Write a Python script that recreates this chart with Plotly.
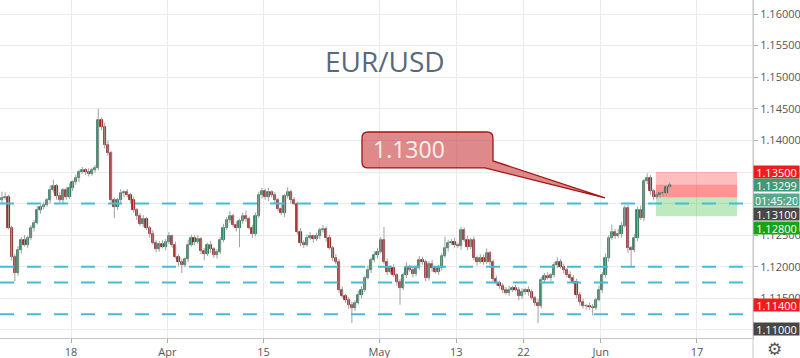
import plotly.graph_objects as go

# ---------------- data (EUR/USD, 3 bars per trading day) ----------------
opens = [
    1.1305, 1.1309, 1.1310, 1.1262, 1.1215, 1.1190, 1.1227, 1.1243, 1.1235, 1.1246,
    1.1261, 1.1270, 1.1290, 1.1295, 1.1298, 1.1305, 1.1321, 1.1328, 1.1312, 1.1305,
    1.1321, 1.1310, 1.1325, 1.1334, 1.1340, 1.1350, 1.1353, 1.1350, 1.1347, 1.1353,
    1.1356, 1.1432, 1.1422, 1.1392, 1.1380, 1.1305, 1.1295, 1.1305, 1.1316, 1.1318,
    1.1313, 1.1305, 1.1290, 1.1280, 1.1268, 1.1275, 1.1262, 1.1252, 1.1238, 1.1228,
    1.1236, 1.1232, 1.1240, 1.1248, 1.1235, 1.1216, 1.1207, 1.1203, 1.1212, 1.1235,
    1.1246, 1.1240, 1.1244, 1.1225, 1.1220, 1.1234, 1.1228, 1.1218, 1.1223, 1.1243,
    1.1262, 1.1274, 1.1281, 1.1266, 1.1262, 1.1272, 1.1281, 1.1276, 1.1262, 1.1252,
    1.1280, 1.1313, 1.1320, 1.1310, 1.1318, 1.1313, 1.1305, 1.1292, 1.1285, 1.1312,
    1.1318, 1.1305, 1.1300, 1.1255, 1.1238, 1.1235, 1.1246, 1.1248, 1.1244, 1.1249,
    1.1258, 1.1260, 1.1246, 1.1230, 1.1214, 1.1208, 1.1164, 1.1154, 1.1148, 1.1140,
    1.1135, 1.1143, 1.1156, 1.1164, 1.1183, 1.1195, 1.1211, 1.1219, 1.1224, 1.1243,
    1.1208, 1.1192, 1.1198, 1.1187, 1.1176, 1.1167, 1.1187, 1.1200, 1.1195, 1.1189,
    1.1198, 1.1211, 1.1208, 1.1182, 1.1205, 1.1198, 1.1192, 1.1198, 1.1217, 1.1230,
    1.1238, 1.1240, 1.1235, 1.1233, 1.1258, 1.1243, 1.1231, 1.1243, 1.1214, 1.1208,
    1.1214, 1.1208, 1.1222, 1.1208, 1.1180, 1.1175, 1.1169, 1.1164, 1.1159, 1.1164,
    1.1167, 1.1164, 1.1154, 1.1160, 1.1164, 1.1160, 1.1151, 1.1143, 1.1138, 1.1179,
    1.1186, 1.1183, 1.1187, 1.1203, 1.1208, 1.1200, 1.1195, 1.1187, 1.1183, 1.1176,
    1.1156, 1.1144, 1.1138, 1.1138, 1.1137, 1.1135, 1.1148, 1.1164, 1.1187, 1.1214,
    1.1246, 1.1255, 1.1249, 1.1252, 1.1265, 1.1293, 1.1230, 1.1227, 1.1246, 1.1290,
    1.1277, 1.1335, 1.1340, 1.1320, 1.1310, 1.1313, 1.1316, 1.1317, 1.1326,
]
closes = [
    1.1309, 1.1310, 1.1262, 1.1215, 1.1190, 1.1227, 1.1243, 1.1235, 1.1246, 1.1261,
    1.1270, 1.1290, 1.1295, 1.1298, 1.1305, 1.1321, 1.1328, 1.1312, 1.1305, 1.1321,
    1.1310, 1.1325, 1.1334, 1.1340, 1.1350, 1.1353, 1.1350, 1.1347, 1.1353, 1.1356,
    1.1432, 1.1422, 1.1392, 1.1380, 1.1305, 1.1295, 1.1305, 1.1316, 1.1318, 1.1313,
    1.1305, 1.1290, 1.1280, 1.1268, 1.1275, 1.1262, 1.1252, 1.1238, 1.1228, 1.1236,
    1.1232, 1.1240, 1.1248, 1.1235, 1.1216, 1.1207, 1.1203, 1.1212, 1.1235, 1.1246,
    1.1240, 1.1244, 1.1225, 1.1220, 1.1234, 1.1228, 1.1218, 1.1223, 1.1243, 1.1262,
    1.1274, 1.1281, 1.1266, 1.1262, 1.1272, 1.1281, 1.1276, 1.1262, 1.1252, 1.1280,
    1.1313, 1.1320, 1.1310, 1.1318, 1.1313, 1.1305, 1.1292, 1.1285, 1.1312, 1.1318,
    1.1305, 1.1300, 1.1255, 1.1238, 1.1235, 1.1246, 1.1248, 1.1244, 1.1249, 1.1258,
    1.1260, 1.1246, 1.1230, 1.1214, 1.1208, 1.1164, 1.1154, 1.1148, 1.1140, 1.1135,
    1.1143, 1.1156, 1.1164, 1.1183, 1.1195, 1.1211, 1.1219, 1.1224, 1.1243, 1.1208,
    1.1192, 1.1198, 1.1187, 1.1176, 1.1167, 1.1187, 1.1200, 1.1195, 1.1189, 1.1198,
    1.1211, 1.1208, 1.1182, 1.1205, 1.1198, 1.1192, 1.1198, 1.1217, 1.1230, 1.1238,
    1.1240, 1.1235, 1.1233, 1.1258, 1.1243, 1.1231, 1.1243, 1.1214, 1.1208, 1.1214,
    1.1208, 1.1222, 1.1208, 1.1180, 1.1175, 1.1169, 1.1164, 1.1159, 1.1164, 1.1167,
    1.1164, 1.1154, 1.1160, 1.1164, 1.1160, 1.1151, 1.1143, 1.1138, 1.1179, 1.1186,
    1.1183, 1.1187, 1.1203, 1.1208, 1.1200, 1.1195, 1.1187, 1.1183, 1.1176, 1.1156,
    1.1144, 1.1138, 1.1138, 1.1137, 1.1135, 1.1148, 1.1164, 1.1187, 1.1214, 1.1246,
    1.1255, 1.1249, 1.1252, 1.1265, 1.1293, 1.1230, 1.1227, 1.1246, 1.1290, 1.1277,
    1.1335, 1.1340, 1.1320, 1.1310, 1.1313, 1.1316, 1.1317, 1.1326, 1.13299,
]
upper_wick_pips = [
    10, 8, 4, 3, 5, 6, 4, 7, 3, 5,
    4, 6, 3, 5, 4, 8, 10, 3, 6, 4,
    5, 7, 3, 6, 4, 5, 3, 6, 4, 5,
    18, 4, 6, 8, 3, 5, 4, 7, 3, 5,
    4, 6, 3, 5, 7, 4, 3, 6, 4, 5,
    6, 4, 7, 3, 5, 4, 6, 3, 8, 5,
    4, 6, 3, 5, 4, 7, 3, 5, 4, 6,
    5, 7, 3, 6, 4, 5, 8, 3, 4, 6,
    6, 5, 4, 7, 3, 5, 4, 6, 3, 8,
    4, 5, 3, 6, 4, 5, 7, 3, 5, 4,
    6, 4, 5, 3, 6, 4, 5, 3, 4, 5,
    4, 6, 5, 3, 7, 4, 5, 6, 4, 20,
    5, 4, 6, 3, 5, 4, 7, 3, 5, 4,
    6, 5, 3, 4, 6, 3, 5, 4, 18, 5,
    4, 6, 3, 5, 4, 6, 3, 5, 4, 6,
    5, 7, 3, 4, 6, 3, 5, 4, 6, 3,
    5, 4, 6, 3, 5, 4, 3, 6, 5, 4,
    6, 3, 5, 7, 4, 5, 3, 6, 4, 5,
    4, 6, 3, 5, 4, 3, 6, 5, 7, 4,
    12, 5, 8, 6, 4, 5, 3, 6, 5, 7,
    4, 8, 5, 3, 6, 4, 5, 3, 4,
]
lower_wick_pips = [
    4, 3, 3, 5, 13, 4, 6, 3, 5, 4,
    5, 3, 6, 4, 3, 5, 4, 6, 3, 5,
    4, 3, 5, 4, 6, 3, 5, 4, 3, 4,
    3, 6, 5, 4, 3, 18, 5, 4, 6, 3,
    5, 4, 6, 3, 5, 4, 6, 3, 5, 4,
    3, 6, 4, 5, 3, 6, 13, 4, 5, 3,
    6, 4, 5, 10, 3, 6, 4, 5, 3, 4,
    4, 5, 3, 6, 31, 4, 5, 3, 6, 4,
    3, 5, 4, 6, 3, 5, 4, 3, 6, 4,
    5, 3, 4, 6, 5, 3, 4, 6, 3, 5,
    4, 6, 3, 5, 4, 6, 3, 5, 6, 24,
    5, 3, 6, 4, 3, 5, 4, 6, 3, 4,
    5, 4, 3, 6, 27, 4, 5, 3, 6, 4,
    3, 5, 5, 4, 6, 3, 5, 4, 3, 6,
    4, 5, 3, 6, 4, 5, 3, 4, 6, 3,
    5, 4, 6, 3, 5, 4, 6, 3, 5, 4,
    3, 7, 5, 4, 6, 3, 5, 27, 4, 5,
    3, 6, 4, 5, 3, 6, 4, 5, 3, 6,
    5, 4, 6, 5, 12, 4, 3, 5, 4, 6,
    3, 5, 4, 6, 3, 8, 26, 4, 5, 3,
    5, 4, 6, 5, 3, 4, 5, 4, 3,
]

tick_labels = ["18", "Apr", "15", "May", "13", "22", "Jun", "17"]
tick_trading_days = [0, 10, 20, 32, 40, 47, 55, 65]   # trading days after 18 Mar
bars_per_day = 3
first_tick_bar = 21.5

# price scale: every 0.005; labels hidden where a price badge covers them
price_ticks = [1.16, 1.155, 1.15, 1.145, 1.14, 1.135, 1.13, 1.125, 1.12, 1.115, 1.11]
covered_ticks = [1.135, 1.13, 1.11]

support_levels = [1.1300, 1.1200, 1.1175, 1.1125]
callout_text = "1.1300"
callout_price = 1.1300

stop_price = 1.1350
entry_price = 1.1310
target_price = 1.1280
last_price = 1.13299
countdown_text = "01:45:20"
alert_prices = [1.1140, 1.1100]

# ---------------- build ----------------
pip = 0.0001
n = len(closes)
xs = list(range(n))
highs = [max(o, c) + u * pip for o, c, u in zip(opens, closes, upper_wick_pips)]
lows = [min(o, c) - l * pip for o, c, l in zip(opens, closes, lower_wick_pips)]

UP_FILL, UP_LINE = "#2f8d68", "#1b5a41"
DN_FILL, DN_LINE = "#c0201f", "#6a0d0d"

fig = go.Figure()

wx, wy = [], []
for i in range(n):
    wx += [i, i, None]
    wy += [lows[i], highs[i], None]
fig.add_trace(go.Scatter(x=wx, y=wy, mode="lines",
                         line=dict(color="#a0a0a0", width=1),
                         hoverinfo="skip", showlegend=False))

body_base = [min(o, c) for o, c in zip(opens, closes)]
body_h = [max(abs(c - o), 0.00005) for o, c in zip(opens, closes)]
fills = [UP_FILL if c >= o else DN_FILL for o, c in zip(opens, closes)]
lines = [UP_LINE if c >= o else DN_LINE for o, c in zip(opens, closes)]
fig.add_trace(go.Bar(x=xs, y=body_h, base=body_base, width=0.7,
                     marker=dict(color=fills, line=dict(color=lines, width=0.7)),
                     hoverinfo="skip", showlegend=False))

tickvals = [first_tick_bar + bars_per_day * d for d in tick_trading_days]
ytext = ["" if any(abs(v - c) < 1e-9 for c in covered_ticks) else f"{v:.5f}"
         for v in price_ticks]

Y_MIN, Y_MAX = 1.10873, 1.16222
X_MIN, X_MAX = -0.62, 233.96

shapes = []
# position tool (short): stop zone, open P/L band, target zone
px0, px1 = 203.7, 229.0
shapes.append(dict(type="rect", xref="x", yref="y", x0=px0, x1=px1,
                   y0=entry_price, y1=stop_price, line=dict(width=0),
                   fillcolor="rgba(255,40,40,0.30)", layer="between"))
shapes.append(dict(type="rect", xref="x", yref="y", x0=px0, x1=px1,
                   y0=entry_price, y1=last_price, line=dict(width=0),
                   fillcolor="rgba(255,40,40,0.28)", layer="between"))
shapes.append(dict(type="rect", xref="x", yref="y", x0=px0, x1=px1,
                   y0=target_price, y1=entry_price, line=dict(width=0),
                   fillcolor="rgba(0,170,0,0.25)", layer="between"))

for lv in support_levels:
    shapes.append(dict(type="line", xref="paper", yref="y", x0=0, x1=1,
                       y0=lv, y1=lv, layer="above",
                       line=dict(color="#45bcd5", width=2, dash="14px,13px")))

# callout balloon
bx0, bx1 = 112.15, 152.96
by_top, by_bot = 1.14133, 1.13564
rx, ry = 1.87, 0.00095
tail_right_y = 1.13675
tail_bottom_x = 150.47
tip_x, tip_y = 187.85, callout_price + 0.0009
path = (f"M {bx0+rx},{by_top} L {bx1-rx},{by_top} Q {bx1},{by_top} {bx1},{by_top-ry} "
        f"L {bx1},{tail_right_y} L {tip_x},{tip_y} L {tail_bottom_x},{by_bot} "
        f"L {bx0+rx},{by_bot} Q {bx0},{by_bot} {bx0},{by_bot+ry} "
        f"L {bx0},{by_top-ry} Q {bx0},{by_top} {bx0+rx},{by_top} Z")
shapes.append(dict(type="path", xref="x", yref="y", path=path, layer="above",
                   fillcolor="rgba(200,60,60,0.6)",
                   line=dict(color="#a51414", width=1.3)))

# separator line of the price scale
shapes.append(dict(type="line", xref="paper", yref="paper", x0=1, x1=1,
                   y0=-0.06, y1=1, line=dict(color="#c8c8c8", width=1)))

annotations = []
annotations.append(dict(text="EUR/USD", xref="paper", yref="paper",
                        x=0.5113, y=0.8817, showarrow=False,
                        font=dict(size=28, color="#58697b", family="Open Sans")))
annotations.append(dict(text=callout_text, xref="x", yref="y", x=114.9,
                        y=1.13864, xanchor="left", showarrow=False,
                        font=dict(size=23, color="#fcefef", family="Open Sans")))


def badge(text, price, color, yshift=0):
    return dict(text=text, xref="paper", yref="y", x=1.0, y=price,
                xanchor="left", yanchor="middle", yshift=yshift,
                showarrow=False, bgcolor=color, width=42, height=9.4,
                borderpad=1.5, align="center",
                font=dict(size=11, color="white", family="Open Sans"))


annotations.append(badge(f"{stop_price:.5f}", stop_price, "#ee1c1c", yshift=0.5))
annotations.append(badge(f"{last_price:.5f}", last_price, "#3f9a78"))
annotations.append(badge(countdown_text, last_price, "#58a98a", yshift=-15))
annotations.append(badge(f"{entry_price:.5f}", entry_price, "#474747", yshift=-16.5))
annotations.append(badge(f"{target_price:.5f}", target_price, "#16a316", yshift=-12))
annotations.append(badge(f"{alert_prices[0]:.5f}", alert_prices[0], "#ee1c1c"))
annotations.append(badge(f"{alert_prices[1]:.5f}", alert_prices[1], "#474747", yshift=1))
annotations.append(dict(text="⚙", xref="paper", yref="paper", x=1.0292, y=-0.0325,
                        xanchor="center", yanchor="middle", showarrow=False,
                        font=dict(size=17, color="#555555", family="DejaVu Sans")))

fig.update_layout(
    width=800, height=358,
    margin=dict(l=0, r=47, t=0, b=20),
    plot_bgcolor="white", paper_bgcolor="white",
    showlegend=False, barmode="overlay", bargap=0,
    shapes=shapes, annotations=annotations,
    font=dict(family="Open Sans", size=11, color="#555555"),
    xaxis=dict(range=[X_MIN, X_MAX], tickvals=tickvals, ticktext=tick_labels,
               showgrid=True, gridcolor="#ebebeb", zeroline=False,
               ticks="outside", ticklen=4, tickcolor="#aaaaaa",
               showline=True, linecolor="#c8c8c8",
               tickfont=dict(size=11, color="#555555")),
    yaxis=dict(range=[Y_MIN, Y_MAX], side="right",
               tickvals=price_ticks, ticktext=ytext,
               showgrid=True, gridcolor="#ebebeb",
               zeroline=False, ticks="outside", ticklen=4, tickcolor="#aaaaaa",
               showline=True, linecolor="#c8c8c8",
               tickfont=dict(size=11, color="#555555")),
)

fig.write_html("out.html", config={"displayModeBar": False},
               post_script="document.body.style.margin='0px';")
